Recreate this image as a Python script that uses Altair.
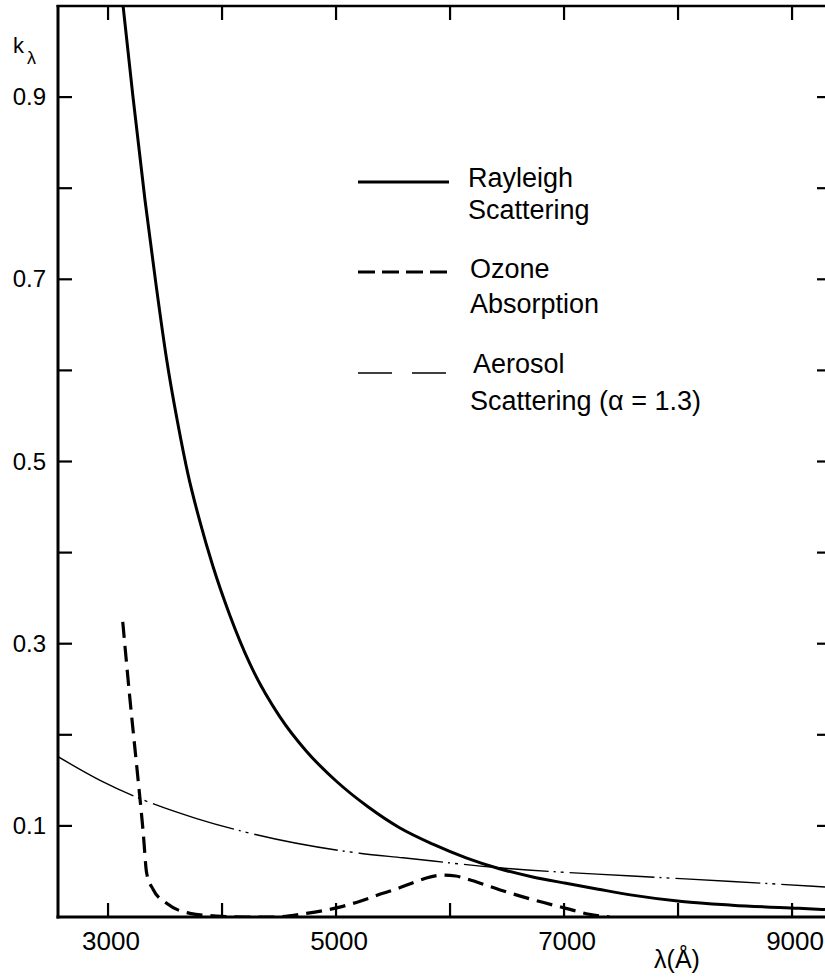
import altair as alt
import pandas as pd

# ---------------- data ----------------
ray_wl = [3132, 3219, 3324, 3420, 3514, 3610, 3703, 3806, 3920, 4069, 4244, 4506, 4740, 5003,
          5280, 5557, 5849, 6141, 6433, 6725, 7017, 7300, 7597, 8035, 8473, 9060, 9289]
ray_k = [1.0, 0.90, 0.787, 0.695, 0.612, 0.543, 0.485, 0.434, 0.385, 0.331, 0.278, 0.220, 0.182,
         0.149, 0.121, 0.098, 0.080, 0.065, 0.053, 0.044, 0.037, 0.0305, 0.024, 0.017, 0.013,
         0.0095, 0.0082]

oz_wl = [3129, 3193, 3252, 3309, 3339, 3397, 3514, 3718, 3952, 4200, 4450, 4740, 5003, 5178,
         5411, 5557, 5703, 5830, 5937, 6050, 6141, 6433, 6725, 7017, 7221, 7400]
oz_k = [0.324, 0.238, 0.165, 0.092, 0.048, 0.030, 0.015, 0.004, 0.001, 0.0, 0.0, 0.004, 0.010,
        0.016, 0.026, 0.032, 0.039, 0.044, 0.046, 0.045, 0.042, 0.030, 0.019, 0.0095, 0.003, 0.0]

aer_wl = [2561, 2930, 3280, 3777, 4244, 5207, 5586, 6433, 7597, 8473, 9289]
aer_k = [0.176, 0.150, 0.130, 0.108, 0.092, 0.070, 0.065, 0.054, 0.045, 0.039, 0.033]

x_ticks = [3000, 4000, 5000, 6000, 7000, 8000, 9000]
x_labels = [3000, 5000, 7000, 9000]
y_ticks = [0.1, 0.2, 0.3, 0.4, 0.5, 0.6, 0.7, 0.8, 0.9]
y_labels = [0.1, 0.3, 0.5, 0.7, 0.9]

# ---------------- layout ----------------
FONT = "Liberation Sans"
LEFT, TOP = 58, 6
W, H = 767, 911
TOTAL_H = 977
X_DOM = [2561, 9289]
Y_DOM = [0, 1.0]

xs = alt.Scale(domain=X_DOM, nice=False, zero=False)
ys = alt.Scale(domain=Y_DOM, nice=False, zero=False)


def px(x):
    return x - LEFT


def py(y):
    return y - TOP


def X(field):
    return alt.X(field, scale=xs, axis=None)


def Y(field):
    return alt.Y(field, scale=ys, axis=None)


ray = pd.DataFrame({"wl": ray_wl, "k": ray_k})
oz = pd.DataFrame({"wl": oz_wl, "k": oz_k})
aer = pd.DataFrame({"wl": aer_wl, "k": aer_k})

rayleigh = alt.Chart(ray).mark_line(color="black", strokeWidth=3, interpolate="monotone",
                                    clip=True).encode(x=X("wl:Q"), y=Y("k:Q"))

ozone = alt.Chart(oz).mark_line(color="black", strokeWidth=3.2, strokeDash=[16, 8],
                                interpolate="monotone", clip=True).encode(x=X("wl:Q"), y=Y("k:Q"))

aerosol = alt.Chart(aer).mark_line(color="black", strokeWidth=1.4,
                                   strokeDash=[85, 5, 2, 5, 3, 6],
                                   interpolate="monotone", clip=True).encode(x=X("wl:Q"), y=Y("k:Q"))

# ticks (inward) and tick labels
xt = pd.DataFrame({"v": x_ticks})
yt = pd.DataFrame({"v": y_ticks})
xl = pd.DataFrame({"v": x_labels})
yl = pd.DataFrame({"v": y_labels})

bottom_ticks = alt.Chart(xt).mark_rule(color="black", strokeWidth=2.2).encode(
    x=X("v:Q"), y=alt.value(H - 14), y2=alt.value(H))
top_ticks = alt.Chart(xt).mark_rule(color="black", strokeWidth=2.2).encode(
    x=X("v:Q"), y=alt.value(0), y2=alt.value(14))
left_ticks = alt.Chart(yt).mark_rule(color="black", strokeWidth=2.2).encode(
    y=Y("v:Q"), x=alt.value(0), x2=alt.value(14))
right_ticks = alt.Chart(yt).mark_rule(color="black", strokeWidth=2.2).encode(
    y=Y("v:Q"), x=alt.value(W - 8), x2=alt.value(W))

x_tick_labels = alt.Chart(xl).mark_text(font=FONT, fontSize=26, color="black", align="center",
                                        baseline="alphabetic", dx=3).encode(
    x=X("v:Q"), y=alt.value(py(950)), text=alt.Text("v:Q", format="d"))
y_tick_labels = alt.Chart(yl).mark_text(font=FONT, fontSize=24, color="black", align="right",
                                        baseline="middle", dy=1).encode(
    y=Y("v:Q"), x=alt.value(px(46)), text=alt.Text("v:Q", format=".1f"))

ONE = alt.Data(values=[{}])


def seg(x1, x2, y, width, dash=None):
    kw = dict(color="black", strokeWidth=width)
    if dash:
        kw["strokeDash"] = dash
    return alt.Chart(ONE).mark_rule(**kw).encode(
        x=alt.value(px(x1)), x2=alt.value(px(x2)), y=alt.value(py(y)))


def vseg(x, y1, y2, width):
    return alt.Chart(ONE).mark_rule(color="black", strokeWidth=width).encode(
        x=alt.value(px(x)), y=alt.value(py(y1)), y2=alt.value(py(y2)))


frame = [
    seg(LEFT - 1.5, 825, TOP, 2.5),          # top border
    seg(LEFT - 1.5, 825, TOP + H, 3),        # bottom axis line
    vseg(LEFT, TOP - 1, TOP + H + 1.5, 3),   # left axis line
]


def text(txt, x, y, size, align="left", baseline="alphabetic"):
    return alt.Chart(ONE).mark_text(text=txt, align=align, baseline=baseline, fontSize=size,
                                    font=FONT, color="black").encode(
        x=alt.value(px(x)), y=alt.value(py(y)))


legend = [
    seg(358, 449, 182, 3),
    text("Rayleigh", 468, 187, 27),
    text("Scattering", 468, 219, 27),
    seg(358, 449, 272, 3.2, [17, 7]),
    text("Ozone", 470, 278, 27),
    text("Absorption", 470, 313, 27),
    seg(358, 449, 373, 1.4, [34, 20]),
    text("Aerosol", 473, 373, 27),
    text("Scattering  (α = 1.3)", 470, 410, 27),
    text("k", 13, 53, 22),
    text("λ", 27, 64, 18),
    text("λ(Å)", 677, 968, 25, align="center"),
]

chart = alt.layer(
    rayleigh, aerosol, ozone,
    bottom_ticks, top_ticks, left_ticks, right_ticks,
    x_tick_labels, y_tick_labels,
    *frame,
    *legend,
).properties(
    width=W, height=H,
    autosize=alt.AutoSizeParams(type="none"),
    padding={"left": LEFT, "top": TOP, "right": 0, "bottom": TOTAL_H - TOP - H},
).configure_view(stroke="transparent", strokeWidth=0).configure(background="white")

chart.save("out.html", embed_options={"renderer": "svg", "actions": False})
